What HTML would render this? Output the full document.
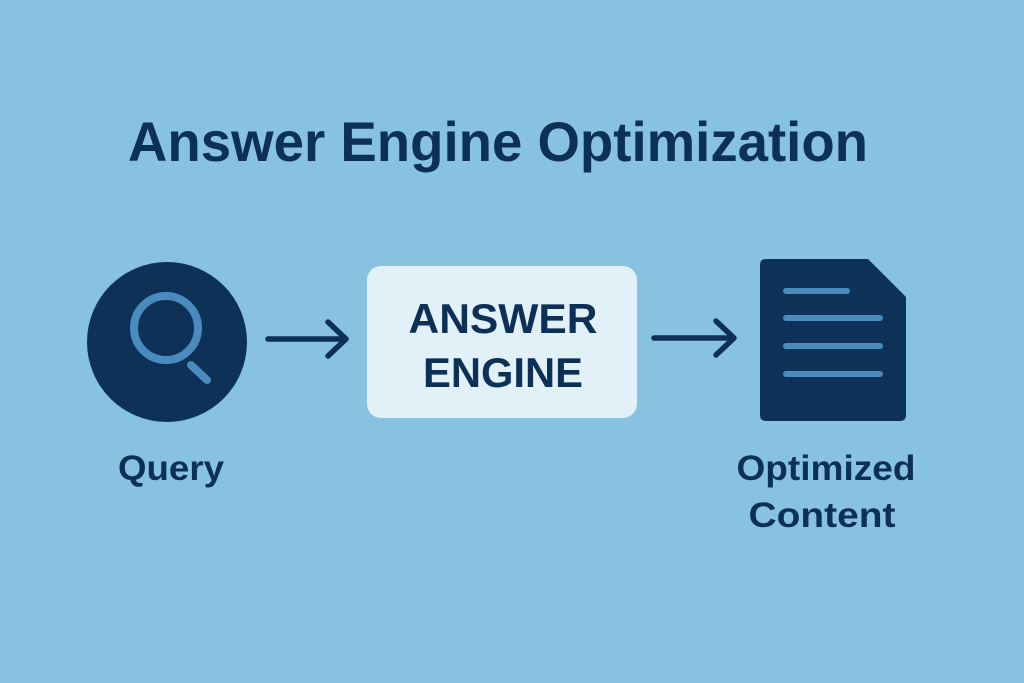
<!DOCTYPE html>
<html><head><meta charset="utf-8"><style>
html,body{margin:0;padding:0;background:#87c2e1;}
svg{display:block;}
text{font-family:"Liberation Sans",sans-serif;font-weight:bold;fill:#0d3056;}
</style></head><body>
<svg width="1024" height="683" viewBox="0 0 1024 683" xmlns="http://www.w3.org/2000/svg">
<rect width="1024" height="683" fill="#87c2e1"/>
<text x="128" y="161" font-size="56" textLength="740" lengthAdjust="spacingAndGlyphs">Answer Engine Optimization</text>
<circle cx="167" cy="342" r="80" fill="#0d3157"/>
<circle cx="166" cy="328" r="32" fill="none" stroke="#4a8bbd" stroke-width="8"/>
<line x1="191" y1="365" x2="207" y2="380" stroke="#4a8bbd" stroke-width="8" stroke-linecap="round"/>
<g stroke="#0d3056" stroke-width="5.5" stroke-linecap="round" stroke-linejoin="round" fill="none">
<line x1="268" y1="339" x2="345" y2="339"/>
<polyline points="328,322 346,339 328,356"/>
<line x1="654" y1="338" x2="733" y2="338"/>
<polyline points="716,321 734,338 716,355"/>
</g>
<rect x="367" y="266" width="270" height="152" rx="14" fill="#e2f0f7"/>
<text x="503" y="333" font-size="42" text-anchor="middle" textLength="189" lengthAdjust="spacingAndGlyphs">ANSWER</text>
<text x="503" y="387" font-size="42" text-anchor="middle" textLength="160" lengthAdjust="spacingAndGlyphs">ENGINE</text>
<path d="M766,259 L868,259 L906,297 L906,415 Q906,421 900,421 L766,421 Q760,421 760,415 L760,265 Q760,259 766,259 Z" fill="#0d3157"/>
<g stroke="#4a8bbd" stroke-width="6" stroke-linecap="round">
<line x1="786" y1="291" x2="847" y2="291"/>
<line x1="786" y1="318" x2="880" y2="318"/>
<line x1="786" y1="346" x2="880" y2="346"/>
<line x1="786" y1="374" x2="880" y2="374"/>
</g>
<text x="171" y="480" font-size="35" text-anchor="middle" textLength="106" lengthAdjust="spacingAndGlyphs">Query</text>
<text x="826" y="480" font-size="35" text-anchor="middle" textLength="179" lengthAdjust="spacingAndGlyphs">Optimized</text>
<text x="822" y="527" font-size="35" text-anchor="middle" textLength="147" lengthAdjust="spacingAndGlyphs">Content</text>
</svg>
</body></html>
